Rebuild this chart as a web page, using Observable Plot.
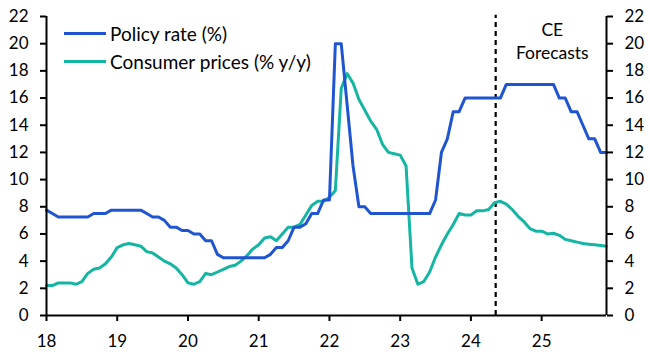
<!DOCTYPE html>
<html>
<head>
<meta charset="utf-8">
<script src="https://cdn.jsdelivr.net/npm/d3@7"></script>
<script src="https://cdn.jsdelivr.net/npm/@observablehq/plot@0.6"></script>
<style>
  body { margin: 0; background: #fff; }
  #wrap { position: relative; width: 650px; height: 355px; font-family: Lato, sans-serif; color: #000; }
  .leg { position: absolute; left: 64px; display: flex; align-items: center; font-size: 19px; line-height: 1; white-space: nowrap; }
  .leg span.sw { display: inline-block; width: 42px; height: 3px; margin-right: 4px; }
</style>
</head>
<body>
<div id="wrap"></div>
<script>
// Year tick labels (two-digit years)
const xTicks = [18, 19, 20, 21, 22, 23, 24, 25];
const yTicks = [0, 2, 4, 6, 8, 10, 12, 14, 16, 18, 20, 22];

// Monthly series, Jan 2018 - Dec 2025
const policyRate = [
  7.75, 7.5, 7.25, 7.25, 7.25, 7.25, 7.25, 7.25, 7.5, 7.5, 7.5, 7.75,
  7.75, 7.75, 7.75, 7.75, 7.75, 7.5, 7.25, 7.25, 7.0, 6.5, 6.5, 6.25,
  6.25, 6.0, 6.0, 5.5, 5.5, 4.5, 4.25, 4.25, 4.25, 4.25, 4.25, 4.25,
  4.25, 4.25, 4.5, 5.0, 5.0, 5.5, 6.5, 6.5, 6.75, 7.5, 7.5, 8.5,
  8.5, 20, 20, 15.5, 11, 8, 8, 7.5, 7.5, 7.5, 7.5, 7.5,
  7.5, 7.5, 7.5, 7.5, 7.5, 7.5, 8.5, 12, 13, 15, 15, 16,
  16, 16, 16, 16, 16, 16, 17, 17, 17, 17, 17, 17,
  17, 17, 17, 16, 16, 15, 15, 14, 13, 13, 12, 12
];
const consumerPrices = [
  2.2, 2.2, 2.4, 2.4, 2.4, 2.3, 2.5, 3.1, 3.4, 3.5, 3.8, 4.3,
  5.0, 5.2, 5.3, 5.2, 5.1, 4.7, 4.6, 4.3, 4.0, 3.8, 3.5, 3.0,
  2.4, 2.3, 2.5, 3.1, 3.0, 3.2, 3.4, 3.6, 3.7, 4.0, 4.4, 4.9,
  5.2, 5.7, 5.8, 5.5, 6.0, 6.5, 6.5, 6.7, 7.4, 8.1, 8.4, 8.4,
  8.7, 9.2, 16.7, 17.8, 17.1, 15.9, 15.1, 14.3, 13.7, 12.6, 12.0, 11.9,
  11.8, 11.0, 3.5, 2.3, 2.5, 3.2, 4.3, 5.2, 6.0, 6.7, 7.5, 7.4,
  7.4, 7.7, 7.7, 7.8, 8.3, 8.4, 8.2, 7.8, 7.3, 6.9, 6.4, 6.2,
  6.2, 6.0, 6.05, 5.9, 5.6, 5.5, 5.4, 5.3, 5.25, 5.2, 5.15, 5.1
];
const forecastStart = [24.35];
const annotations = [
  {label: "CE", x: 25.15, y: 21.0},
  {label: "Forecasts", x: 25.15, y: 19.25}
];
const seriesNames = ["Policy rate (%)", "Consumer prices (% y/y)"];
const colors = ["#1f55d0", "#14b5a3"];

const startYear = xTicks[0];
const data = policyRate.map((v, i) => ({t: startYear + i / 12, policy: v, cpi: consumerPrices[i]}));
const xEnd = startYear + (policyRate.length - 1) / 12;

const chart = Plot.plot({
  width: 650,
  height: 355,
  marginLeft: 46,
  marginRight: 44,
  marginTop: 16,
  marginBottom: 40,
  style: {fontFamily: "Lato, sans-serif", fontSize: "17px", color: "#000", background: "#fff", overflow: "visible"},
  x: {domain: [startYear, xEnd]},
  y: {domain: [0, 22]},
  marks: [
    Plot.ruleX(forecastStart, {y1: 0, y2: 22.1, stroke: "#000", strokeWidth: 2.2, strokeDasharray: "5,4"}),
    Plot.lineY(data, {x: "t", y: "cpi", stroke: colors[1], strokeWidth: 3}),
    Plot.lineY(data, {x: "t", y: "policy", stroke: colors[0], strokeWidth: 3}),
    Plot.text(annotations, {x: "x", y: "y", text: "label", fontSize: 17.5, textAnchor: "middle", fill: "#000"}),
    Plot.axisX({ticks: xTicks, tickFormat: d => String(d), tickSize: 6, tickPadding: 13, strokeWidth: 2, label: null, fontSize: 17}),
    Plot.axisY({anchor: "left", ticks: yTicks, tickSize: 6, tickPadding: 12, strokeWidth: 2, label: null, fontSize: 17}),
    Plot.axisY({anchor: "right", ticks: yTicks, tickSize: 6, tickPadding: 12, strokeWidth: 2, label: null, fontSize: 17}),
    Plot.ruleX([startYear, xEnd], {stroke: "#000", strokeWidth: 2}),
    Plot.ruleY([0], {stroke: "#000", strokeWidth: 2})
  ]
});

const wrap = document.getElementById("wrap");
wrap.appendChild(chart);
const legTops = [33, 61];
seriesNames.forEach((name, i) => {
  const d = document.createElement("div");
  d.className = "leg";
  d.style.top = (legTops[i] - 9) + "px";
  d.style.height = "18px";
  d.innerHTML = `<span class="sw" style="background:${colors[i]}"></span><span>${name}</span>`;
  wrap.appendChild(d);
});
</script>
</body>
</html>
